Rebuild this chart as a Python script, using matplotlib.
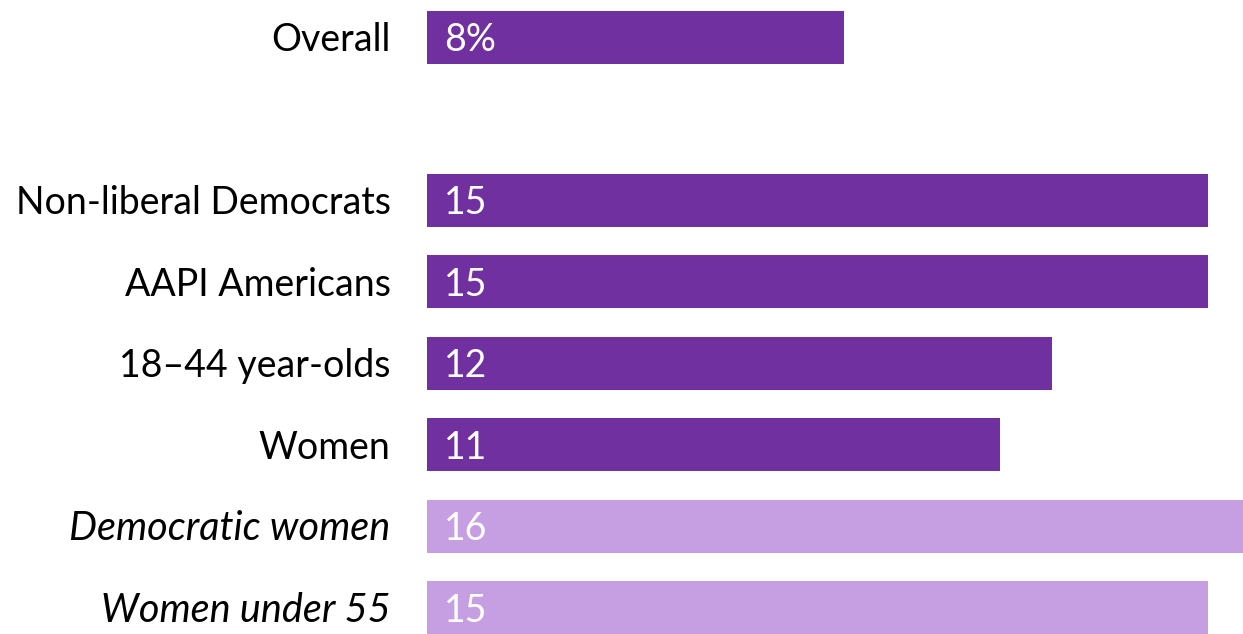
import matplotlib
matplotlib.use("Agg")
import matplotlib.pyplot as plt

categories = ["Overall", "Non-liberal Democrats", "AAPI Americans", "18–44 year-olds",
              "Women", "Democratic women", "Women under 55"]
values = [8, 15, 15, 12, 11, 16, 15]
value_labels = ["8%", "15", "15", "12", "11", "16", "15"]
positions = [0, 2, 3, 4, 5, 6, 7]
italic = [False, False, False, False, False, True, True]
dark = "#7030A0"
light = "#C69EE2"
colors = [dark, dark, dark, dark, dark, light, light]

plt.rcParams['font.family'] = ['Lato', 'DejaVu Sans']

fig = plt.figure(figsize=(12.43, 6.34), dpi=100)
ax = fig.add_axes([427/1243, 0, 1 - 427/1243, 1])
ax.barh(positions, values, height=0.65, color=colors)
ax.set_xlim(0, (1243 - 427) / 52.07)
ax.set_ylim(7.32, -0.46)
ax.axis("off")

off = 0.17
for p, v, lab, cat, it in zip(positions, values, value_labels, categories, italic):
    ax.text(0.33, p + off, lab, color="white", fontsize=27, va="baseline", ha="left")
    ax.text(-0.7, p + off, cat, color="black", fontsize=28.5 if it else 27,
            va="baseline", ha="right", style="italic" if it else "normal")

fig.savefig("out.png", dpi=100)
